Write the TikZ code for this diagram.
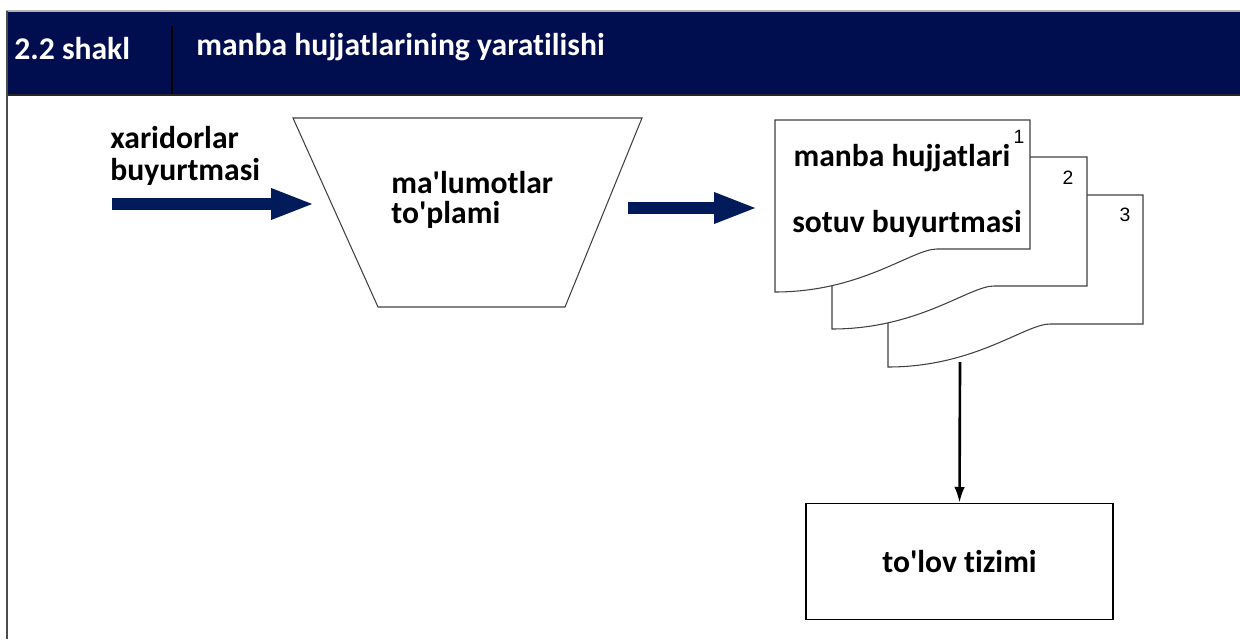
\documentclass[tikz,border=0pt]{standalone}
\usepackage{fontspec}
\setmainfont{Carlito}[Ligatures={NoCommon}]
\newfontfamily\numfont{Liberation Sans}
\usetikzlibrary{positioning, arrows.meta}

\definecolor{headnavy}{RGB}{0,14,80}
\definecolor{arrownavy}{RGB}{0,26,90}

\newcommand{\q}{\textquotesingle}

\begin{document}
\begin{tikzpicture}[
	x=0.02cm, y=-0.02cm,
	headtext/.style={font=\bfseries\fontsize{18}{20}\selectfont, text=white, inner sep=0pt, anchor=west},
	label/.style={font=\bfseries\fontsize{18}{18}\selectfont, align=left, inner sep=0pt, anchor=west},
	doctext/.style={font=\bfseries\fontsize{18}{20}\selectfont, inner sep=0pt},
	docnum/.style={font=\numfont\fontsize{11}{12}\selectfont, inner sep=0pt},
	docline/.style={draw=black!75, line width=0.6pt, fill=white},
	funnel/.style={draw=black!75, line width=0.6pt},
	bigarrow/.style={draw=arrownavy, line width=6.6pt, -{Triangle[length=25pt, width=16pt]}},
	thinarrow/.style={line width=1.5pt, -{Latex[length=9pt, width=6pt]}},
	box/.style={rectangle, draw, line width=0.8pt, minimum width=6.14cm, minimum height=2.32cm, font=\bfseries\fontsize{18}{20}\selectfont}
	]
	\useasboundingbox (0,0) rectangle (1240,639);

	% Header
	\fill[headnavy] (6,12) rectangle (1240,95);
	\draw[gray!60, line width=1pt] (6,11) -- (1240,11);
	\draw[black!85, line width=1.2pt] (6,95) -- (1240,95);
	\draw[black!70, line width=1.4pt] (7,11) -- (7,639);
	\draw[black, line width=1.5pt] (172,26) -- (172,94);
	\node[headtext] (fignum) at (14,49) {2.2 shakl};
	\node[headtext] (figtitle) at (196,47) {manba hujjatlarining yaratilishi};

	% Input
	\node[label] (orders) at (110,156) {xaridorlar\\buyurtmasi};
	\coordinate (ordersout) at (112,204);

	% Data collection
	\draw[funnel] (293,118) -- (642,118) -- (565,307) -- (378,307) -- cycle;
	\node[label, font=\bfseries\fontsize{18}{17}\selectfont] (collect) at (391,200) {ma\q lumotlar\\to\q plami};
	\coordinate (collectin) at (315,204);
	\coordinate (collectout) at (628,208);

	% Documents, back to front
	\foreach \i/\dx/\dy in {3/113/75, 2/57/37, 1/0/0} {
		\draw[docline, shift={(\dx,\dy)}] (775,292) -- (775,120) -- (1030,120) -- (1030,249) -- (937,249)
			.. controls (912,249) and (862,292) .. (775,292) -- cycle;
	}
	\coordinate (docsin) at (758,208);
	\coordinate (docsout) at (960,362);
	\node[doctext] (doctype) at (902,158) {manba hujjatlari};
	\node[doctext] (docname) at (907,224) {sotuv buyurtmasi};
	\node[docnum] (num1) at (1019,137) {1};
	\node[docnum] (num2) at (1068,178) {2};
	\node[docnum] (num3) at (1125,215) {3};

	% Payment system
	\node[box] (payment) at (959.5,561.5) {to\q lov tizimi};

	% Arrows
	\draw[bigarrow] (ordersout) -- (collectin);
	\draw[bigarrow] (collectout) -- (docsin);
	\draw[thinarrow] (docsout) -- (payment.north);

\end{tikzpicture}
\end{document}
